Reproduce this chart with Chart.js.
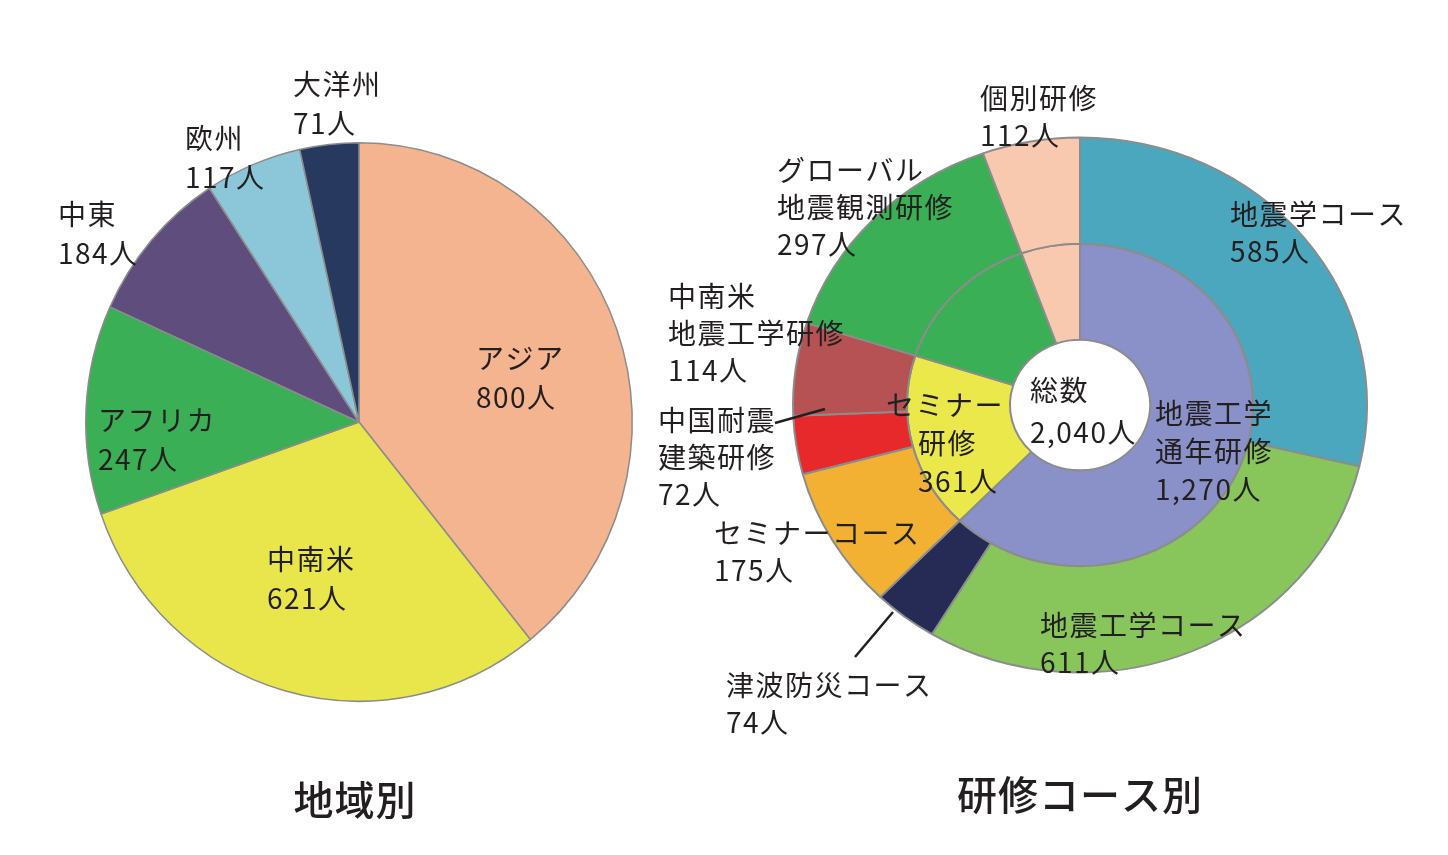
<!DOCTYPE html>
<html>
<head>
<meta charset="utf-8">
<script src="https://cdn.jsdelivr.net/npm/chart.js@4"></script>
<style>
  body { margin: 0; background: #fff; width: 1448px; height: 855px; overflow: hidden; position: relative; }
  #regionBox { position: absolute; left: 0; top: 0; width: 640px; height: 855px; }
  #courseBox { position: absolute; left: 640px; top: 0; width: 808px; height: 855px; }
</style>
</head>
<body>
<div id="regionBox"><canvas id="regionChart"></canvas></div>
<div id="courseBox"><canvas id="courseChart"></canvas></div>
<script>
// 地域別
const regionNames = ['アジア', '中南米', 'アフリカ', '中東', '欧州', '大洋州'];
const regionCounts = [800, 621, 247, 184, 117, 71];
const regionColors = ['#F3B48F', '#E9E64B', '#3AAF55', '#5F4D7E', '#8CC6D9', '#27395E'];

// 研修コース別 (outer ring)
const courseNames = ['地震学コース', '地震工学コース', '津波防災コース', 'セミナーコース',
  '中国耐震\n建築研修', '中南米\n地震工学研修', 'グローバル\n地震観測研修', '個別研修'];
const courseCounts = [585, 611, 74, 175, 72, 114, 297, 112];
const courseColors = ['#4BA7BE', '#88C55B', '#262B55', '#F2B133', '#E8292B', '#B65253', '#3AAF55', '#F8C9AF'];

// 研修コース別 (inner ring)
const programNames = ['地震工学\n通年研修', 'セミナー\n研修', 'グローバル\n地震観測研修', '個別研修'];
const programCounts = [1270, 361, 297, 112];
const programColors = ['#8A90C8', '#EAE84B', '#3AAF55', '#F8C9AF'];

const FONT = '"Noto Sans CJK JP", "Noto Sans", sans-serif';
const INK = '#231F20';
const fmt = v => v.toLocaleString('en-US') + '人';

// where each label block starts (x, y of first line, optional x for later lines)
const regionLabelPos = [[476, 358], [267, 559], [98, 420], [58, 214], [185, 138], [293, 84]];
const courseLabelPos = [[590, 214], [400, 625], [86, 685], [74, 533], [18, 420], [28, 296], [137, 170], [340, 98]];
const programLabelPos = [[515, 413], [246, 405, 278]];

// the printed circles are slightly oval; squash the arcs only, not the text
const ovalPlugin = {
  id: 'oval',
  beforeDatasetsDraw(chart, args, opts) {
    const a = chart.chartArea;
    const cx = (a.left + a.right) / 2, cy = (a.top + a.bottom) / 2;
    const ctx = chart.ctx;
    ctx.save();
    ctx.translate(cx, cy);
    ctx.scale(1, opts.scaleY);
    ctx.translate(-cx, -cy);
  },
  afterDatasetsDraw(chart) {
    chart.ctx.restore();
  }
};

const labelPlugin = {
  id: 'labels',
  afterDraw(chart, args, opts) {
    const ctx = chart.ctx;
    ctx.save();
    ctx.fillStyle = INK;
    ctx.textBaseline = 'middle';
    ctx.textAlign = 'left';
    ctx.font = '28px ' + FONT;
    ctx.letterSpacing = '1.5px';
    opts.items.forEach(it => {
      const lines = it.name.split('\n').concat([it.value]);
      lines.forEach((t, i) => {
        const x = i > 0 && it.x2 !== undefined ? it.x2 : it.x;
        ctx.fillText(t, x, it.y + i * it.step);
      });
    });
    ctx.strokeStyle = INK;
    ctx.lineWidth = 2.5;
    (opts.leaders || []).forEach(l => {
      ctx.beginPath();
      ctx.moveTo(l[0], l[1]);
      ctx.lineTo(l[2], l[3]);
      ctx.stroke();
    });
    ctx.font = '500 40px ' + FONT;
    ctx.letterSpacing = '1px';
    ctx.textAlign = 'center';
    ctx.fillText(opts.title[0], opts.title[1], opts.title[2]);
    ctx.restore();
  }
};

const regionItems = regionNames.map((n, i) => ({
  name: n, value: fmt(regionCounts[i]), x: regionLabelPos[i][0], y: regionLabelPos[i][1], step: 39
}));

new Chart(document.getElementById('regionChart'), {
  type: 'pie',
  data: {
    labels: regionNames,
    datasets: [{
      data: regionCounts,
      backgroundColor: regionColors,
      borderColor: '#8C8C8C',
      borderWidth: 1.5
    }]
  },
  options: {
    responsive: true,
    maintainAspectRatio: false,
    animation: false,
    layout: { padding: { left: 85, right: 7, top: 148, bottom: 159 } },
    plugins: {
      legend: { display: false },
      tooltip: { enabled: false },
      oval: { scaleY: 1.022 },
      labels: { items: regionItems, title: ['地域別', 355, 800] }
    }
  },
  plugins: [ovalPlugin, labelPlugin]
});

const total = courseCounts.reduce((a, b) => a + b, 0);
const courseItems = courseNames.map((n, i) => ({
  name: n, value: fmt(courseCounts[i]), x: courseLabelPos[i][0], y: courseLabelPos[i][1], step: 37
})).concat(programNames.slice(0, 2).map((n, i) => ({
  name: n, value: fmt(programCounts[i]), x: programLabelPos[i][0], y: programLabelPos[i][1],
  x2: programLabelPos[i][2], step: 38
}))).concat([{ name: '総数', value: fmt(total), x: 390, y: 390, step: 42 }]);

new Chart(document.getElementById('courseChart'), {
  type: 'doughnut',
  data: {
    labels: courseNames,
    datasets: [{
      data: courseCounts,
      backgroundColor: courseColors,
      borderColor: '#8C8C8C',
      borderWidth: 2,
      weight: 114
    }, {
      data: programCounts,
      backgroundColor: programColors,
      borderColor: '#8C8C8C',
      borderWidth: 2,
      weight: 103
    }]
  },
  options: {
    responsive: true,
    maintainAspectRatio: false,
    animation: false,
    cutout: '24.4%',
    layout: { padding: { left: 152, right: 80, top: 117, bottom: 162 } },
    plugins: {
      legend: { display: false },
      tooltip: { enabled: false },
      oval: { scaleY: 0.932 },
      labels: {
        items: courseItems,
        leaders: [[135, 423, 185, 409], [215, 657, 253, 612]],
        title: ['研修コース別', 440, 795]
      }
    }
  },
  plugins: [ovalPlugin, labelPlugin]
});
</script>
</body>
</html>
